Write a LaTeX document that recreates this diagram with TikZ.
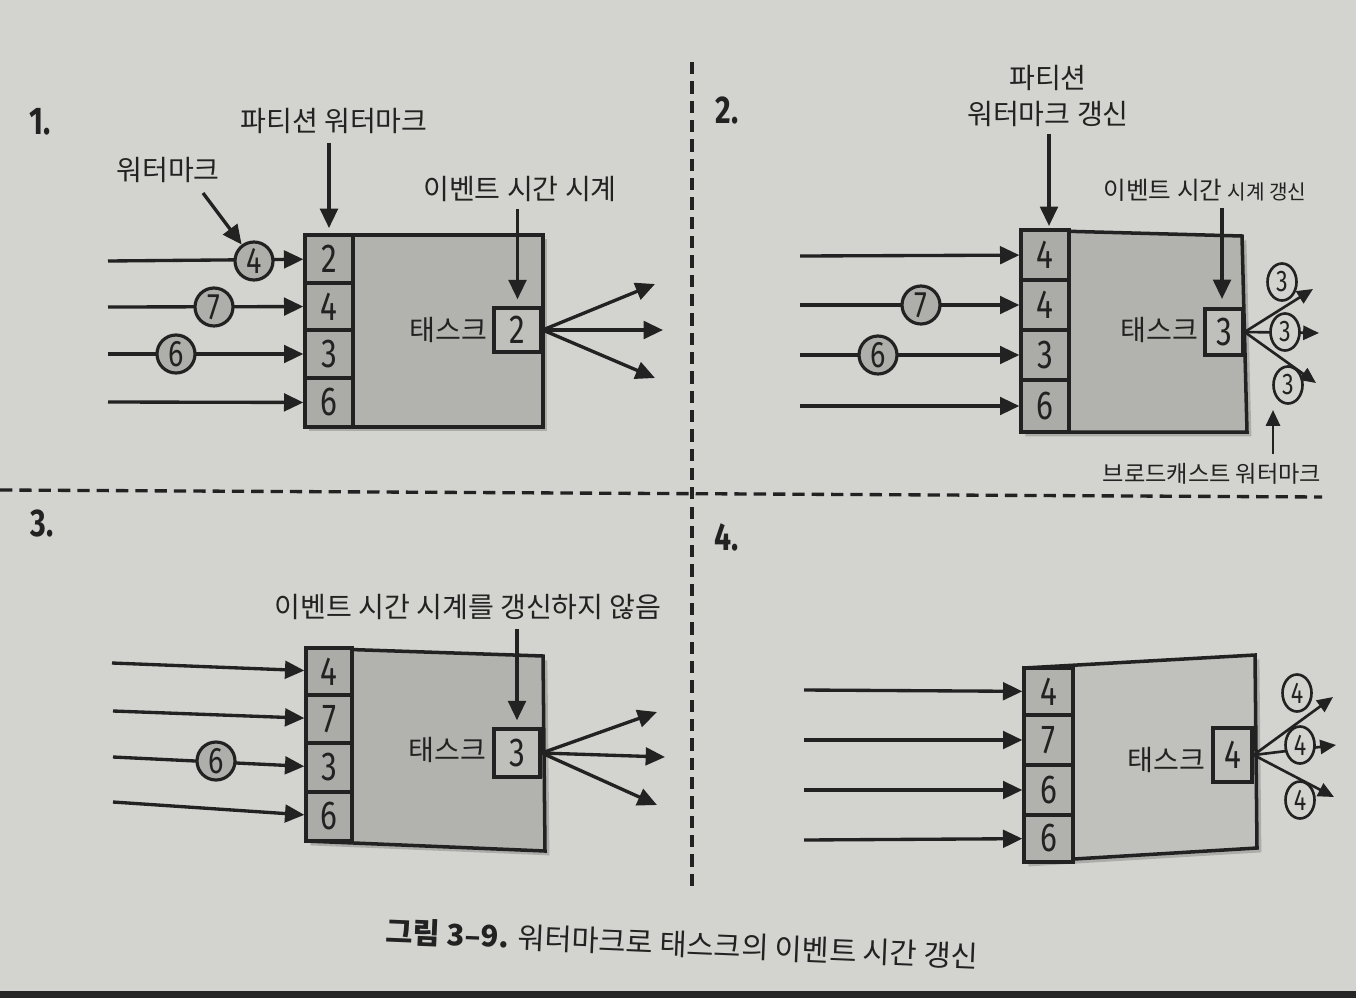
\documentclass[tikz,border=0pt]{standalone}
\usepackage{fontspec}
\setmainfont{Noto Sans CJK KR}
\newfontfamily\numf{Fira Sans}[FakeStretch=0.78]
\usetikzlibrary{arrows.meta,fit,shapes.geometric}
\definecolor{bg}{HTML}{D3D3CF}
\definecolor{ink}{HTML}{222222}
\definecolor{boxfill}{HTML}{B2B2AE}
\definecolor{boxfillb}{HTML}{C0C0BC}
\definecolor{cellfill}{HTML}{ABABA7}
\definecolor{taskfill}{HTML}{BFBFBB}
\definecolor{circfill}{HTML}{AEAEAA}
\begin{document}
\begin{tikzpicture}[x=0.02cm,y=-0.02cm,
  arr/.style={draw=ink, line width=1.9pt, -{Triangle[length=11pt,width=10pt]}},
  thinarr/.style={draw=ink, line width=1.5pt, -{Triangle[length=9pt,width=8pt]}},
  lbl/.style={text=ink, font=\fontsize{16}{20.5}\selectfont, inner sep=1pt},
  slbl/.style={text=ink, font=\fontsize{13.2}{15}\selectfont, inner sep=1pt},
  cell/.style={draw=ink, line width=1.9pt, fill=cellfill, inner sep=0pt},
  task/.style={draw=ink, line width=1.9pt, fill=taskfill, inner sep=0pt},
  num/.style={text=ink, inner sep=0pt, font=\numf\fontsize{23}{24}\selectfont},
  mainbox/.style={draw=ink, line width=2pt, fill=boxfill,
     preaction={fill=black, opacity=0.18, transform canvas={xshift=2.5pt,yshift=-2.5pt}}},
  wm/.style={circle, draw=ink, line width=1.8pt, fill=circfill, minimum size=0.76cm, inner sep=0pt, text=ink, font=\numf\fontsize{21}{22}\selectfont},
  swm/.style={ellipse, draw=ink, line width=1.5pt, fill=bg, minimum width=0.58cm, minimum height=0.74cm, inner sep=0pt, text=ink, font=\numf\fontsize{17}{18}\selectfont},
  hd/.style={text=ink, font=\numf\bfseries\fontsize{22}{24}\selectfont, inner sep=0pt},
  divider/.style={draw=ink, line width=1.9pt, dash pattern=on 7pt off 4pt}
]
\useasboundingbox (0,0) rectangle (1356,998);
\fill[bg] (0,0) rectangle (1356,998);
\fill[black!85] (0,991) rectangle (1356,998);

% dividers
\coordinate (dv1) at (692,62);
\coordinate (dv2) at (692,893);
\coordinate (dh1) at (0,490);
\coordinate (dh2) at (1322,497);
\draw[divider] (dv1) -- (dv2);
\draw[divider] (dh1) -- (dh2);

% headings
\node[hd] (h1) at (40,122) {1.};
\node[hd] (h2) at (727,110) {2.};
\node[hd] (h3) at (42,523) {3.};
\node[hd] (h4) at (727,537) {4.};

% ================= Panel 1 =================
\path[mainbox] (305,235) -- (543,235) -- (543,427) -- (305,427) -- cycle;
\node[cell, fit={(305,235)(353,283)}] (p1c1) {};
\node[cell, fit={(305,283)(353,330)}] (p1c2) {};
\node[cell, fit={(305,330)(353,378)}] (p1c3) {};
\node[cell, fit={(305,378)(353,427)}] (p1c4) {};
\node[num] (p1n1) at (p1c1) {2};
\node[num] (p1n2) at (p1c2) {4};
\node[num] (p1n3) at (p1c3) {3};
\node[num] (p1n4) at (p1c4) {6};
\node[task, fit={(494,308)(541,352)}] (p1t) {};
\node[num] (p1tn) at (p1t) {2};
\node[lbl, anchor=east] (p1tl) at (489,330) {태스크};

\coordinate (p1s1) at (108,261);
\coordinate (p1s2) at (108,307);
\coordinate (p1s3) at (108,354);
\coordinate (p1s4) at (108,402);
\draw[arr] (p1s1) -- (p1c1);
\draw[arr] (p1s2) -- (p1c2);
\draw[arr] (p1s3) -- (p1c3);
\draw[arr] (p1s4) -- (p1c4);
\node[wm] (p1w1) at (254,261) {4};
\node[wm] (p1w2) at (214,307) {7};
\node[wm] (p1w3) at (176,354) {6};

\node[lbl] (p1lwm) at (168,170) {워터마크};
\coordinate (p1a) at (203,193);
\draw[arr] (p1a) -- (p1w1);
\node[lbl] (p1lpw) at (334,121) {파티션 워터마크};
\draw[arr, shorten <=4pt, shorten >=3pt] (p1lpw.south -| p1c1.north) -- (p1c1.north);
\node[lbl] (p1let) at (520,189) {이벤트 시간 시계};
\draw[arr, shorten <=3pt, shorten >=4pt] (p1let.south -| p1t.north) -- (p1t.north);

\coordinate (p1o1) at (655,284);
\coordinate (p1o2) at (663,330);
\coordinate (p1o3) at (655,378);
\draw[arr] (p1t.east) -- (p1o1);
\draw[arr] (p1t.east) -- (p1o2);
\draw[arr] (p1t.east) -- (p1o3);

% ================= Panel 2 =================
\path[mainbox] (1021,230) -- (1242,236) -- (1247,432) -- (1021,432) -- cycle;
\node[cell, fit={(1021,230)(1069,280)}] (p2c1) {};
\node[cell, fit={(1021,280)(1069,330)}] (p2c2) {};
\node[cell, fit={(1021,330)(1069,380)}] (p2c3) {};
\node[cell, fit={(1021,380)(1069,432)}] (p2c4) {};
\node[num] (p2n1) at (p2c1) {4};
\node[num] (p2n2) at (p2c2) {4};
\node[num] (p2n3) at (p2c3) {3};
\node[num] (p2n4) at (p2c4) {6};
\node[task, fit={(1205,309)(1243,355)}] (p2t) {};
\node[num] (p2tn) at (p2t) {3};
\node[lbl, anchor=east] (p2tl) at (1200,330) {태스크};

\coordinate (p2s1) at (800,256);
\coordinate (p2s2) at (800,305);
\coordinate (p2s3) at (800,355);
\coordinate (p2s4) at (800,406);
\draw[arr] (p2s1) -- (p2c1);
\draw[arr] (p2s2) -- (p2c2);
\draw[arr] (p2s3) -- (p2c3);
\draw[arr] (p2s4) -- (p2c4);
\node[wm] (p2w2) at (921,305) {7};
\node[wm] (p2w3) at (878,355) {6};

\node[lbl, align=center] (p2lpw) at (1048,96) {파티션\\워터마크 갱신};
\coordinate (p2pa) at (1049,134);
\coordinate (p2pb) at (1049,226);
\draw[arr] (p2pa) -- (p2pb);
\node[slbl] (p2let) at (1205,190) {{\fontsize{14}{15}\selectfont 이벤트 시간} {\fontsize{11.5}{12}\selectfont 시계 갱신}};
\coordinate (p2ea) at (1222,208);
\coordinate (p2eb) at (1222,299);
\draw[arr] (p2ea) -- (p2eb);

\coordinate (p2o1) at (1313,289);
\coordinate (p2o2) at (1319,333);
\coordinate (p2o3) at (1316,383);
\draw[thinarr] (p2t.east) -- (p2o1);
\draw[thinarr] (p2t.east) -- (p2o2);
\draw[thinarr] (p2t.east) -- (p2o3);
\node[swm] (p2b1) at (1282,282) {3};
\node[swm] (p2b2) at (1285,332) {3};
\node[swm] (p2b3) at (1288,385) {3};

\node[slbl] (p2lbw) at (1212,474) {브로드캐스트 워터마크};
\coordinate (p2bt) at (1273,410);
\draw[thinarr, shorten <=4pt] (p2lbw.north -| p2bt) -- (p2bt);

% ================= Panel 3 =================
\path[mainbox] (306,648) -- (543,656) -- (545,851) -- (306,841) -- cycle;
\node[cell, fit={(306,648)(352,695)}] (p3c1) {};
\node[cell, fit={(306,695)(352,743)}] (p3c2) {};
\node[cell, fit={(306,743)(352,792)}] (p3c3) {};
\node[cell, fit={(306,792)(352,841)}] (p3c4) {};
\node[num] (p3n1) at (p3c1) {4};
\node[num] (p3n2) at (p3c2) {7};
\node[num] (p3n3) at (p3c3) {3};
\node[num] (p3n4) at (p3c4) {6};
\node[task, fit={(494,729)(540,777)}] (p3t) {};
\node[num] (p3tn) at (p3t) {3};
\node[lbl, anchor=east] (p3tl) at (488,750) {태스크};

\coordinate (p3s1) at (112,663);
\coordinate (p3s2) at (113,711);
\coordinate (p3s3) at (113,757);
\coordinate (p3s4) at (113,802);
\draw[arr] (p3s1) -- (p3c1);
\draw[arr] (p3s2) -- (p3c2);
\draw[arr] (p3s3) -- (p3c3);
\draw[arr] (p3s4) -- (p3c4);
\node[wm] (p3w3) at (216,761) {6};

\node[lbl] (p3let) at (468,607) {이벤트 시간 시계를 갱신하지 않음};
\draw[arr, shorten <=4pt, shorten >=4pt] (p3let.south -| p3t.north) -- (p3t.north);

\coordinate (p3o1) at (657,712);
\coordinate (p3o2) at (665,757);
\coordinate (p3o3) at (657,805);
\draw[arr] (p3t.east) -- (p3o1);
\draw[arr] (p3t.east) -- (p3o2);
\draw[arr] (p3t.east) -- (p3o3);

% ================= Panel 4 =================
\path[mainbox, fill=boxfillb] (1024,668) -- (1255,655) -- (1257,848) -- (1024,862) -- cycle;
\node[cell, fit={(1024,668)(1073,715)}, fill=boxfillb!92!black] (p4c1) {};
\node[cell, fit={(1024,715)(1073,765)}, fill=boxfillb!92!black] (p4c2) {};
\node[cell, fit={(1024,765)(1073,815)}, fill=boxfillb!92!black] (p4c3) {};
\node[cell, fit={(1024,815)(1073,862)}, fill=boxfillb!92!black] (p4c4) {};
\node[num] (p4n1) at (p4c1) {4};
\node[num] (p4n2) at (p4c2) {7};
\node[num] (p4n3) at (p4c3) {6};
\node[num] (p4n4) at (p4c4) {6};
\node[task, fit={(1213,728)(1252,782)}] (p4t) {};
\node[num] (p4tn) at (p4t) {4};
\node[lbl, anchor=east] (p4tl) at (1207,760) {태스크};

\coordinate (p4s1) at (804,690);
\coordinate (p4s2) at (804,740);
\coordinate (p4s3) at (804,790);
\coordinate (p4s4) at (804,840);
\draw[arr] (p4s1) -- (p4c1);
\draw[arr] (p4s2) -- (p4c2);
\draw[arr] (p4s3) -- (p4c3);
\draw[arr] (p4s4) -- (p4c4);

\coordinate (p4o1) at (1333,697);
\coordinate (p4o2) at (1336,745);
\coordinate (p4o3) at (1334,797);
\draw[thinarr] (p4t.east) -- (p4o1);
\draw[thinarr] (p4t.east) -- (p4o2);
\draw[thinarr] (p4t.east) -- (p4o3);
\node[swm] (p4b1) at (1297,693) {4};
\node[swm] (p4b2) at (1300,745) {4};
\node[swm] (p4b3) at (1300,800) {4};

% caption
\node[text=ink, rotate=-2.4, font=\fontsize{16.8}{19}\selectfont, inner sep=0pt] (cap) at (682,944)
  {\textbf{그림 3–9.} 워터마크로 태스크의 이벤트 시간 갱신};
\end{tikzpicture}
\end{document}
